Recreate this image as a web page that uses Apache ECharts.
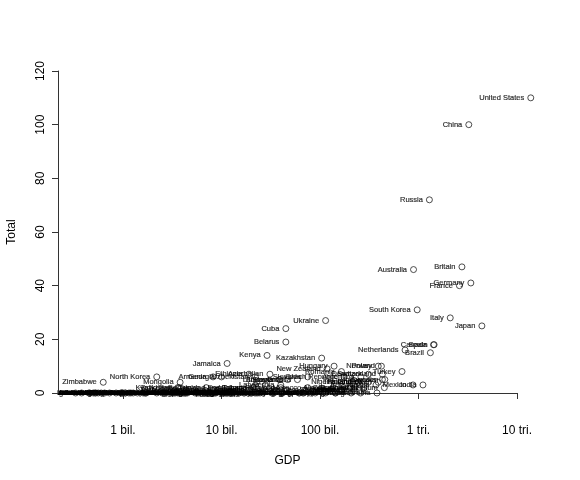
<!DOCTYPE html>
<html>
<head>
<meta charset="utf-8">
<script src="https://cdn.jsdelivr.net/npm/echarts@6/dist/echarts.min.js"></script>
<style>
  html, body { margin: 0; padding: 0; background: #fff; }
  #chart { width: 580px; height: 480px; }
</style>
</head>
<body>
<div id="chart"></div>
<script>
// 2008 medal totals against GDP (billions of US dollars)
const countries = [
  'United States', 'China', 'Russia', 'Britain', 'Australia', 'Germany', 'France',
  'South Korea', 'Italy', 'Ukraine', 'Japan', 'Cuba', 'Belarus', 'Spain', 'Canada',
  'Netherlands', 'Brazil', 'Kenya', 'Kazakhstan', 'Jamaica', 'Norway', 'Poland',
  'Hungary', 'New Zealand', 'Romania', 'Turkey', 'Ethiopia', 'Denmark', 'Azerbaijan',
  'Switzerland', 'Czech Republic', 'Slovakia', 'Georgia', 'North Korea', 'Argentina',
  'Uzbekistan', 'Armenia', 'Slovenia', 'Bulgaria', 'Indonesia', 'Sweden', 'Croatia',
  'Lithuania', 'Mongolia', 'Zimbabwe', 'Thailand', 'Finland', 'Greece', 'Nigeria',
  'Taiwan', 'Mexico', 'Latvia', 'Austria', 'Ireland', 'Serbia', 'India', 'Belgium',
  'Dominican Republic', 'Estonia', 'Portugal', 'Iran', 'Trinidad and Tobago', 'Algeria',
  'Bahamas', 'Colombia', 'Kyrgyzstan', 'Morocco', 'Tajikistan', 'Chile', 'Ecuador',
  'Iceland', 'Malaysia', 'South Africa', 'Singapore', 'Sudan', 'Vietnam', 'Egypt',
  'Afghanistan', 'Israel', 'Moldova', 'Mauritius', 'Togo', 'Venezuela', 'Panama',
  'Tunisia', 'Cameroon',
  'Dominica', 'Guinea-Bissau', 'Comoros', 'Solomon Islands', 'Samoa', 'Vanuatu',
  'Saint Kitts and Nevis', 'Saint Vincent', 'Grenada', 'Gambia', 'Liberia', 'Djibouti',
  'Saint Lucia', 'Seychelles', 'Burundi', 'Antigua and Barbuda', 'Guyana', 'Maldives',
  'Bhutan', 'Eritrea', 'Belize', 'Cape Verde', 'Lesotho', 'Sierra Leone',
  'Central African Republic', 'San Marino', 'Suriname', 'Aruba', 'Mauritania',
  'Swaziland', 'Andorra', 'Rwanda', 'Fiji', 'Malawi', 'Montenegro', 'Barbados', 'Guinea',
  'Laos', 'Niger', 'Liechtenstein', 'Palestine', 'Benin', 'Nicaragua', 'Haiti',
  'Papua New Guinea', 'Burkina Faso', 'Chad', 'Mali', 'Madagascar', 'Malta', 'Mozambique',
  'Macedonia', 'Congo', 'Cambodia', 'Namibia', 'DR Congo', 'Nepal', 'Albania', 'Botswana',
  'Senegal', 'Zambia', 'Gabon', 'Uganda', 'Brunei', 'Honduras', 'Equatorial Guinea',
  'Turkmenistan', 'Paraguay', 'Bolivia', 'Bosnia and Herzegovina', 'Ghana', 'Tanzania',
  'Jordan', 'Bahrain', 'Ivory Coast', 'Myanmar', 'El Salvador', 'Cyprus', 'Yemen',
  'Uruguay', 'Lebanon', 'Costa Rica', 'Sri Lanka', 'Guatemala', 'Syria', 'Oman',
  'Luxembourg', 'Angola', 'Iraq', 'Libya', 'Bangladesh', 'Qatar', 'Puerto Rico', 'Peru',
  'Kuwait', 'Pakistan', 'Philippines', 'Hong Kong', 'United Arab Emirates', 'Saudi Arabia'
];

const gdpBillions = [
  13800, 3240, 1290, 2760, 890, 3400, 2600,
  970, 2100, 114, 4400, 45, 45, 1440, 1420,
  730, 1320, 29, 104, 11.4, 390, 420,
  139, 118, 165, 680, 19, 310, 31,
  430, 175, 75, 10, 2.2, 260,
  22, 8.2, 47, 39, 430, 455, 59,
  39, 3.8, 0.63, 245, 245, 310, 165,
  390, 880, 28, 370, 255, 40, 1110, 450,
  40, 21, 225, 280, 21, 135,
  7, 205, 3.7, 75, 3.6, 165, 45,
  20, 185, 280, 160, 46, 70, 128,
  9, 165, 4.4, 6.8, 2.5, 225, 19,
  35, 20,
  0.33, 0.38, 0.45, 0.46, 0.5, 0.52,
  0.53, 0.56, 0.6, 0.65, 0.73, 0.85,
  0.95, 0.97, 0.98, 1.0, 1.05, 1.06,
  1.15, 1.2, 1.27, 1.4, 1.6, 1.66,
  1.7, 1.72, 2.2, 2.5, 2.6,
  2.9, 3.2, 3.3, 3.4, 3.6, 3.7, 3.8, 4.1,
  4.2, 4.3, 4.35, 4.5, 5.4, 5.7, 5.9,
  6.3, 6.8, 7.0, 7.1, 7.3, 7.35, 8.0,
  8.2, 8.4, 8.6, 8.8, 10.0, 10.3, 10.7, 11.0,
  11.2, 11.4, 11.6, 12.0, 12.2, 12.3, 12.4,
  13.0, 12.9, 13.1, 15.0, 15.1, 16.8,
  17.1, 18.5, 19.8, 20.0, 20.4, 21.8, 22.5,
  23.4, 24.6, 26.3, 32.4, 34.0, 40.4, 41.6,
  50.0, 61.0, 62.0, 67.0, 68.4, 79.7, 89.5, 107,
  114, 143, 144, 207, 258, 379
];

const totals = [
  110, 100, 72, 47, 46, 41, 40,
  31, 28, 27, 25, 24, 19, 18, 18,
  16, 15, 14, 13, 11, 10, 10,
  10, 9, 8, 8, 7, 7, 7,
  7, 6, 6, 6, 6, 6,
  6, 6, 5, 5, 5, 5, 5,
  5, 4, 4, 4, 4, 4, 4,
  4, 3, 3, 3, 3, 3, 3, 2,
  2, 2, 2, 2, 2, 2,
  2, 2, 2, 2, 2, 1, 1,
  1, 1, 1, 1, 1, 1, 1,
  1, 1, 1, 1, 1, 1, 1,
  1, 1,
  0, 0, 0, 0, 0, 0,
  0, 0, 0, 0, 0, 0,
  0, 0, 0, 0, 0, 0,
  0, 0, 0, 0, 0, 0,
  0, 0, 0, 0, 0,
  0, 0, 0, 0, 0, 0, 0, 0,
  0, 0, 0, 0, 0, 0, 0,
  0, 0, 0, 0, 0, 0, 0,
  0, 0, 0, 0, 0, 0, 0, 0,
  0, 0, 0, 0, 0, 0, 0,
  0, 0, 0, 0, 0, 0,
  0, 0, 0, 0, 0, 0, 0,
  0, 0, 0, 0, 0, 0, 0,
  0, 0, 0, 0, 0, 0, 0, 0,
  0, 0, 0, 0, 0, 0
];

const gdpTicks = [1, 10, 100, 1000, 10000];
const gdpTickLabels = ['1 bil.', '10 bil.', '100 bil.', '1 tri.', '10 tri.'];

const points = countries.map((name, i) => ({ name: name, value: [gdpBillions[i], totals[i]] }));

const font = 'Liberation Sans, Arial, Helvetica, sans-serif';
const axisColor = '#333';

const chart = echarts.init(document.getElementById('chart'), null, { renderer: 'canvas' });
chart.setOption({
  animation: false,
  backgroundColor: '#fff',
  textStyle: { fontFamily: font },
  grid: [
    { left: 58, right: 63, top: 71, bottom: 74, outerBoundsMode: 'none' },
    { left: 58, right: 63, top: 71, bottom: 87, outerBoundsMode: 'none' }
  ],
  xAxis: [
    {
      type: 'log', logBase: 10, gridIndex: 0,
      min: Math.pow(10, -0.66), max: 10000,
      name: 'GDP', nameLocation: 'middle', nameGap: 49,
      nameTextStyle: { fontSize: 12, color: '#000', fontFamily: font },
      axisLine: { lineStyle: { color: axisColor, width: 1 } },
      axisTick: { length: 6, lineStyle: { color: axisColor }, customValues: gdpTicks },
      axisLabel: {
        customValues: gdpTicks, margin: 19, fontSize: 12, color: '#000',
        formatter: v => gdpTickLabels[gdpTicks.indexOf(Math.round(v))] || ''
      },
      splitLine: { show: false }
    },
    { type: 'value', gridIndex: 1, show: false, min: 0, max: 1 }
  ],
  yAxis: [
    { type: 'value', gridIndex: 0, show: false, min: -4.845, max: 120, splitLine: { show: false } },
    {
      type: 'value', gridIndex: 1, z: 10,
      min: 0, max: 120, interval: 20,
      name: 'Total', nameLocation: 'middle', nameGap: 40,
      nameTextStyle: { fontSize: 12, color: '#000', fontFamily: font },
      axisLine: { lineStyle: { color: axisColor, width: 1 } },
      axisTick: { length: 6, lineStyle: { color: axisColor } },
      axisLabel: { rotate: 90, margin: 11, fontSize: 12, color: '#000' },
      splitLine: { show: false }
    }
  ],
  graphic: [
    {
      type: 'rect', z: 5, silent: true,
      shape: { x: 0, y: 384, width: 57.5, height: 18 },
      style: { fill: '#fff' }
    }
  ],
  series: [
    {
      type: 'scatter',
      xAxisIndex: 0, yAxisIndex: 0,
      clip: false,
      data: points,
      symbol: 'circle',
      symbolSize: 6,
      itemStyle: { color: 'rgba(0,0,0,0)', borderColor: '#222', borderWidth: 1 },
      label: {
        show: true, position: 'left', distance: 3,
        formatter: '{b}', fontSize: 7.5, color: '#000', fontFamily: font,
        textBorderColor: '#000', textBorderWidth: 0.2
      }
    }
  ]
});
</script>
</body>
</html>
